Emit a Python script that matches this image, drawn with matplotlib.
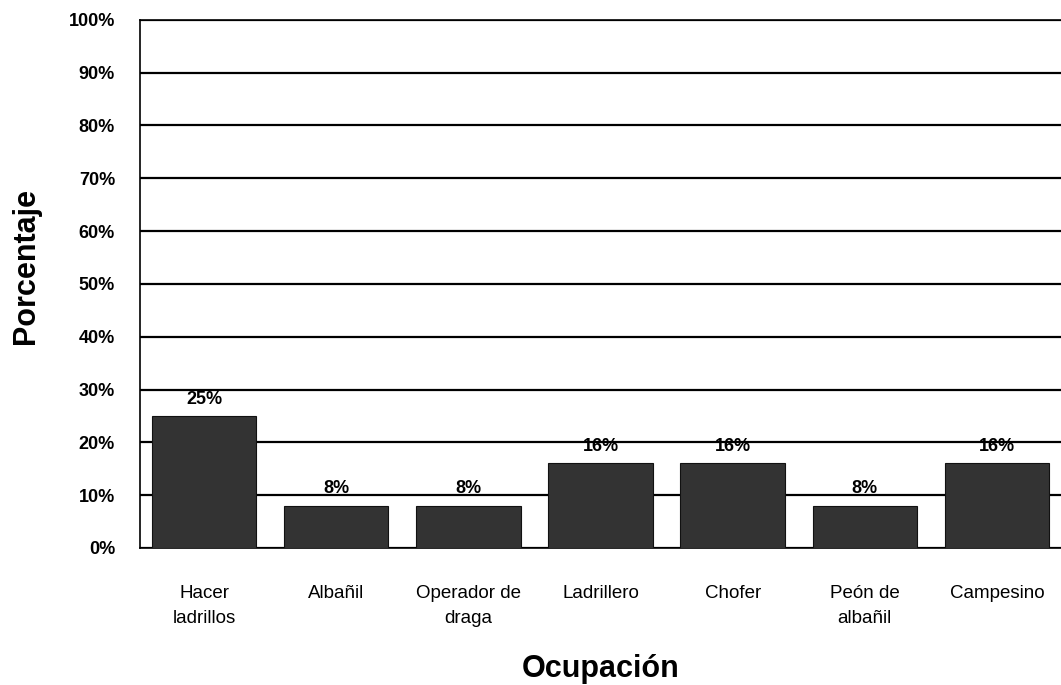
import matplotlib
matplotlib.use("Agg")
import matplotlib.pyplot as plt
import numpy as np

categories = ["Hacer\nladrillos", "Albañil", "Operador de\ndraga", "Ladrillero",
              "Chofer", "Peón de\nalbañil", "Campesino"]
values = [25, 8, 8, 16, 16, 8, 16]
bar_labels = ["25%", "8%", "8%", "16%", "16%", "8%", "16%"]
yticks = [0, 10, 20, 30, 40, 50, 60, 70, 80, 90, 100]
ytick_labels = [f"{t}%" for t in yticks]

plt.rcParams['font.family'] = ['Liberation Sans', 'DejaVu Sans']

fig = plt.figure(figsize=(10.61, 6.85), dpi=100)
ax = fig.add_axes([0.132, 0.2, 0.868, 0.771])

x = np.arange(len(categories))
bars = ax.bar(x, values, width=0.79, color='#333333', edgecolor='#111111',
              linewidth=0.8, zorder=3)

for xi, v, lab in zip(x, values, bar_labels):
    ax.annotate(lab, (xi, v), xytext=(0, 6), textcoords='offset points',
                ha='center', va='bottom', fontsize=13, fontweight='bold', zorder=4)

ax.set_xlim(-0.485, len(categories) - 0.515)
ax.set_ylim(0, 100)
ax.set_yticks(yticks)
ax.set_yticklabels(ytick_labels, fontsize=13, fontweight='bold')
ax.set_xticks(x)
ax.set_xticklabels(categories, fontsize=13.5, linespacing=1.55)
ax.tick_params(axis='y', length=0, pad=18)
ax.tick_params(axis='x', length=0, pad=27)

ax.yaxis.grid(True, color='black', linewidth=1.6, zorder=0)
ax.set_axisbelow(True)

for s in ['left', 'bottom', 'top']:
    ax.spines[s].set_color('black')
    ax.spines[s].set_linewidth(1.2)
ax.spines['right'].set_visible(False)

ax.set_ylabel("Porcentaje", fontsize=22, fontweight='bold')
ax.yaxis.set_label_coords(-0.108, 0.534)
ax.set_xlabel("Ocupación", fontsize=22, fontweight='bold', labelpad=20)

fig.savefig("out.png", dpi=100, facecolor='white')
